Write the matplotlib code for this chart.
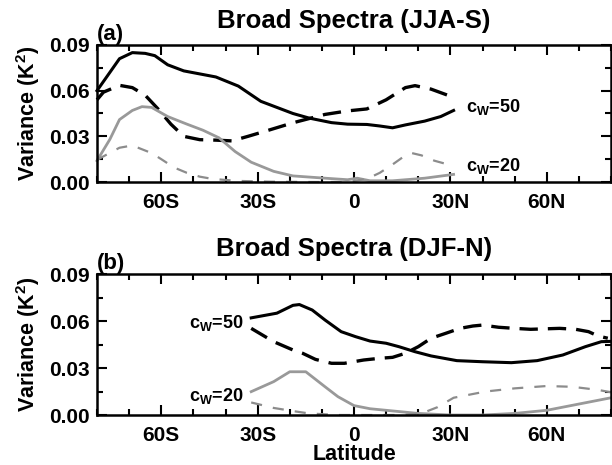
import matplotlib
matplotlib.use('Agg')
import matplotlib.pyplot as plt
from matplotlib.ticker import MultipleLocator, FixedLocator

plt.rcParams['font.family'] = ['Liberation Sans', 'DejaVu Sans']
plt.rcParams['font.weight'] = 'bold'
plt.rcParams['mathtext.fontset'] = 'custom'
plt.rcParams['mathtext.rm'] = 'Liberation Sans:bold'
plt.rcParams['mathtext.bf'] = 'Liberation Sans:bold'
plt.rcParams['mathtext.it'] = 'Liberation Sans:bold'
plt.rcParams['mathtext.default'] = 'bf'

# ---- panel (a) JJA-S ----
a50_lat = [-80, -76, -73, -69, -65, -62, -58, -53, -48, -43, -36, -29, -24, -19, -14, -7, -2, 4, 8, 12, 16, 22, 27, 31]
a50_var = [0.060, 0.072, 0.081, 0.085, 0.0845, 0.083, 0.077, 0.073, 0.071, 0.069, 0.063, 0.053, 0.049, 0.045,
           0.042, 0.039, 0.038, 0.0378, 0.0368, 0.0356, 0.0375, 0.040, 0.043, 0.047]
a50d_lat = [-80, -78, -73, -69, -65, -61, -57, -53, -48, -43, -38, -33, -26, -19, -9, -2, 4, 10, 16, 19, 24, 31]
a50d_var = [0.054, 0.059, 0.0635, 0.062, 0.057, 0.048, 0.038, 0.030, 0.0278, 0.0275, 0.027, 0.030, 0.0344,
            0.0389, 0.0444, 0.0467, 0.048, 0.054, 0.062, 0.0633, 0.061, 0.0556]
a20_lat = [-80, -76, -73, -69, -66, -63, -58, -52, -47, -42, -37, -32, -25, -19, -9, -2, 1, 5, 12, 22, 31]
a20_var = [0.014, 0.028, 0.041, 0.047, 0.0495, 0.049, 0.043, 0.038, 0.034, 0.029, 0.020, 0.013, 0.007, 0.004,
           0.0025, 0.0015, 0.0025, 0.0008, 0.0008, 0.0025, 0.005]
a20d_lat = [-80, -77, -73, -69, -66, -63, -60, -56, -52, -48, -44, -36, -26, -14, -2, 4, 8, 12, 15, 18, 21, 25, 31]
a20d_var = [0.0145, 0.018, 0.0225, 0.024, 0.0215, 0.019, 0.015, 0.0095, 0.006, 0.0035, 0.002, 0.0007, 0.0002,
            0.0, 0.0, 0.002, 0.006, 0.0115, 0.016, 0.019, 0.0175, 0.014, 0.0105]

# ---- panel (b) DJF-N ----
b50_lat = [-32, -24, -19, -17, -13, -9, -4, 0.5, 5, 10, 14, 19, 24, 32, 40, 49, 57, 65, 72, 77, 80]
b50_var = [0.062, 0.065, 0.070, 0.0705, 0.067, 0.0606, 0.0532, 0.050, 0.0472, 0.0458, 0.0436, 0.0404, 0.0377,
           0.0347, 0.034, 0.0334, 0.0347, 0.0383, 0.0436, 0.0468, 0.047]
b50d_lat = [-32, -25, -19, -16, -12, -7, -3, 3, 8, 12, 16, 20, 24, 28.5, 33, 37, 40, 45, 50, 55, 64, 69, 73, 76, 79]
b50d_var = [0.0553, 0.0468, 0.0415, 0.0394, 0.0355, 0.033, 0.033, 0.0351, 0.0362, 0.0368, 0.0394, 0.0436, 0.049,
            0.0521, 0.0553, 0.0568, 0.0574, 0.056, 0.0553, 0.0547, 0.0553, 0.0547, 0.0532, 0.0504, 0.049]
b20_lat = [-32, -25, -20, -15, -13, -9, -5, 0, 5, 10, 20, 30, 40, 50, 60, 70, 80]
b20_var = [0.0149, 0.0213, 0.0276, 0.0276, 0.0244, 0.018, 0.0117, 0.006, 0.004, 0.003, 0.001, 0.0, 0.0, 0.001,
           0.003, 0.007, 0.011]
b20d_lat = [-32, -25, -19, -14, -5, 5, 15, 21, 26, 31, 41, 50, 60, 68, 76, 80]
b20d_var = [0.008, 0.0045, 0.0025, 0.001, 0.0, 0.0, 0.0, 0.001, 0.005, 0.011, 0.015, 0.017, 0.0185, 0.018,
            0.016, 0.0145]

lat_ticks = [-60, -30, 0, 30, 60]
lat_labels = ['60S', '30S', '0', '30N', '60N']
var_ticks = [0.0, 0.03, 0.06, 0.09]
var_labels = ['0.00', '0.03', '0.06', '0.09']

W, H = 612, 465
fig = plt.figure(figsize=(W / 100, H / 100), dpi=100)
ax1 = fig.add_axes([97 / W, 1 - 182 / H, 514 / W, 137 / H])
ax2 = fig.add_axes([97 / W, 1 - 415 / H, 514 / W, 141 / H])

gray = '0.6'
gray_d = '0.55'


def style_axis(ax):
    ax.set_xlim(-80, 80)
    ax.set_ylim(0, 0.09)
    ax.xaxis.set_major_locator(FixedLocator(lat_ticks))
    ax.xaxis.set_minor_locator(MultipleLocator(10))
    ax.yaxis.set_major_locator(FixedLocator(var_ticks))
    ax.yaxis.set_minor_locator(MultipleLocator(0.015))
    ax.set_xticklabels(lat_labels, fontsize=15, fontweight='bold')
    ax.set_yticklabels(var_labels, fontsize=15, fontweight='bold')
    ax.tick_params(which='both', direction='in', top=True, right=True, width=1.5)
    ax.tick_params(which='major', length=7)
    ax.tick_params(which='minor', length=4)
    ax.tick_params(axis='x', pad=8)
    ax.tick_params(axis='y', pad=5)
    for s in ax.spines.values():
        s.set_linewidth(1.8)
    ax.set_ylabel('Variance (K$^{2}$)', fontsize=15.5, fontweight='bold', labelpad=5)


ax1.plot(a50_lat, a50_var, color='black', lw=2.2, clip_on=False)
ax1.plot(a50d_lat, a50d_var, color='black', lw=2.4, dashes=(5.5, 3), clip_on=False)
ax1.plot(a20_lat, a20_var, color=gray, lw=2.0, clip_on=False)
ax1.plot(a20d_lat, a20d_var, color=gray_d, lw=1.6, dashes=(5, 5), clip_on=False)
style_axis(ax1)
ax1.text(0.5, 1.09, 'Broad Spectra (JJA-S)', transform=ax1.transAxes, ha='center', va='bottom',
         fontsize=18.5, fontweight='bold')
ax1.text(0.0, 1.0, '(a)', transform=ax1.transAxes, ha='left', va='bottom', fontsize=16, fontweight='bold')
ax1.text(35, 0.049, 'c$_{W}$=50', ha='left', va='center', fontsize=13)
ax1.text(35, 0.0106, 'c$_{W}$=20', ha='left', va='center', fontsize=13)

ax2.plot(b50_lat, b50_var, color='black', lw=2.2, clip_on=False)
ax2.plot(b50d_lat, b50d_var, color='black', lw=2.4, dashes=(5.5, 3), clip_on=False)
ax2.plot(b20_lat, b20_var, color=gray, lw=2.0, clip_on=False)
ax2.plot(b20d_lat, b20d_var, color=gray_d, lw=1.6, dashes=(5, 5), clip_on=False)
style_axis(ax2)
ax2.text(0.5, 1.09, 'Broad Spectra (DJF-N)', transform=ax2.transAxes, ha='center', va='bottom',
         fontsize=18.5, fontweight='bold')
ax2.text(0.0, 1.0, '(b)', transform=ax2.transAxes, ha='left', va='bottom', fontsize=16, fontweight='bold')
ax2.text(-51.5, 0.0587, 'c$_{W}$=50', ha='left', va='center', fontsize=13)
ax2.text(-51.5, 0.012, 'c$_{W}$=20', ha='left', va='center', fontsize=13)
ax2.set_xlabel('Latitude', fontsize=15.5, fontweight='bold', labelpad=-1)

fig.savefig('out.png', dpi=100)
